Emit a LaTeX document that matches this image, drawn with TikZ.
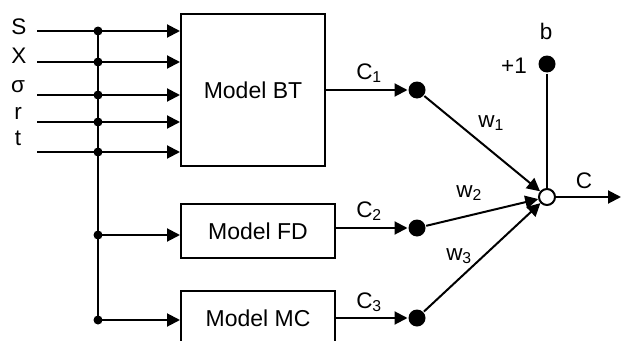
\documentclass[tikz,border=0pt]{standalone}
\usepackage{fontspec}
\setmainfont{Liberation Sans}
\usetikzlibrary{arrows.meta}
\begin{document}
\begin{tikzpicture}[x=1pt,y=-1pt,
  line width=2pt,
  arr/.style={-{Triangle[length=13pt,width=13pt]}},
  jdot/.style={circle,fill,inner sep=0pt,minimum size=9pt},
  bigdot/.style={circle,fill,inner sep=0pt,minimum size=17pt},
  odot/.style={circle,draw,fill=white,inner sep=0pt,minimum size=16pt},
  model/.style={draw,rectangle,inner sep=0pt,font=\fontsize{23}{25}\selectfont},
  lbl/.style={font=\fontsize{22.5}{24}\selectfont,inner sep=0pt,anchor=base},
]
\useasboundingbox (0,0) rectangle (621,340);
\clip (0,0) rectangle (621,340);

% model boxes
\node[model,minimum width=144pt,minimum height=152pt] (bt) at (253,90) {Model BT};
\node[model,minimum width=154pt,minimum height=54pt] (fd) at (258,231) {Model FD};
\node[model,minimum width=154pt,minimum height=54pt] (mc) at (258,318) {Model MC};

% inputs
\foreach \n/\y in {1/31,2/62,3/95,4/122,5/152}{
  \coordinate (in\n) at (37,\y);
  \coordinate (j\n) at (98,\y);
  \draw[arr] (in\n) -- (in\n -| bt.west);
}
\coordinate (jfd) at (98,235);
\coordinate (jmc) at (98,320);
\draw (j1) -- (jmc);
\draw[arr] (jfd) -- (jfd -| fd.west);
\draw[arr] (jmc) -- (jmc -| mc.west);
\foreach \c in {j1,j2,j3,j4,j5,jfd,jmc}{ \node[jdot] at (\c) {}; }

\node[lbl] (lS) at (19,34) {S};
\node[lbl] (lX) at (19,63) {X};
\node[lbl] (ls) at (18,92) {σ};
\node[lbl] (lr) at (18,119) {r};
\node[lbl] (lt) at (18,145) {t};

% neurons
\node[bigdot] (d1) at (417,90) {};
\node[bigdot] (d2) at (417,228) {};
\node[bigdot] (d3) at (417,318) {};
\node[bigdot] (bd) at (547,64) {};
\node[odot] (out) at (547,197) {};
\coordinate (cend) at (621,197);

\draw[arr] (d1 -| bt.east) -- (d1);
\draw[arr] (d2 -| fd.east) -- (d2);
\draw[arr] (d3 -| mc.east) -- (d3);
\draw[arr] (d1) -- (out);
\draw[arr] (d2) -- (out);
\draw[arr] (d3) -- (out);
\draw (bd) -- (out);
\draw[arr] (out) -- (cend);

\node[lbl] (c1) at (369,79) {C\textsubscript{1}};
\node[lbl] (c2) at (369,217) {C\textsubscript{2}};
\node[lbl] (c3) at (369,308) {C\textsubscript{3}};
\node[lbl] (cc) at (584,188) {C};
\node[lbl] (lb) at (546,39) {b};
\node[lbl] (p1) at (514,73) {+1};
\node[lbl] (w1) at (491,127) {w\textsubscript{1}};
\node[lbl] (w2) at (469,197) {w\textsubscript{2}};
\node[lbl] (w3) at (459,260) {w\textsubscript{3}};
\end{tikzpicture}
\end{document}
